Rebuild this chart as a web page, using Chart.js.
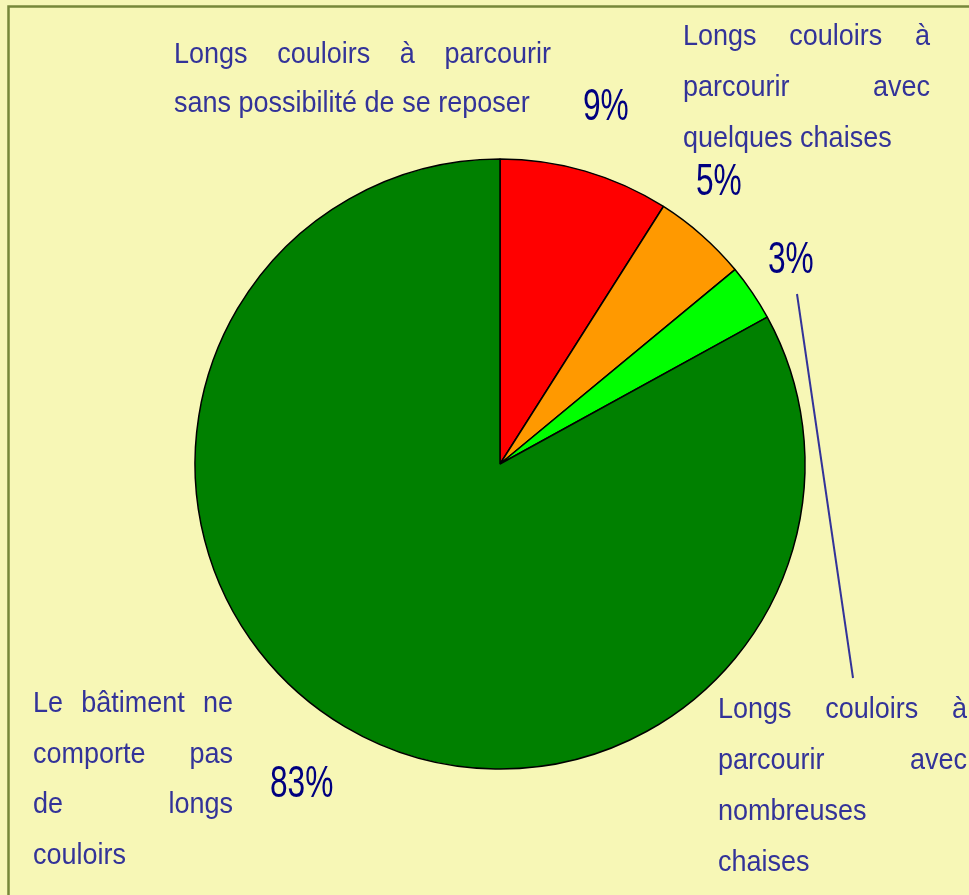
<!DOCTYPE html>
<html>
<head>
<meta charset="utf-8">
<script src="https://cdn.jsdelivr.net/npm/chart.js@4.4.1/dist/chart.umd.min.js"></script>
<style>
    html, body { margin: 0; padding: 0; background: #f7f7b6; }
    #wrap { width: 969px; height: 895px; position: relative; }
</style>
</head>
<body>
<div id="wrap"><canvas id="grafikCouloirs"></canvas></div>
<script>
// categories (line breaks as in the picture)
const categories = [
    ['Longs couloirs à parcourir', 'sans possibilité de se reposer'],
    ['Longs couloirs à', 'parcourir avec', 'quelques chaises'],
    ['Longs couloirs à', 'parcourir avec', 'nombreuses', 'chaises'],
    ['Le bâtiment ne', 'comporte pas', 'de longs', 'couloirs']
];
const values = [9, 5, 3, 83];
const colors = ['#ff0000', '#ff9900', '#00ff00', '#008000'];

// where each label block and each percentage sits
const blocks = [
    { left: 174, right: 551, top: 63, lh: 49 },
    { left: 683, right: 930, top: 45, lh: 51 },
    { left: 718, right: 967, top: 718, lh: 51 },
    { left: 33, right: 233, top: 712, lh: 50.5 }
];
const pctPos = [
    { x: 583, y: 120 },
    { x: 696, y: 195 },
    { x: 768, y: 273 },
    { x: 270, y: 797 }
];

const policeTexte = '"Liberation Sans", Arial, sans-serif';

const fondPlugin = {
    id: 'fond',
    beforeDraw: function (chart) {
        const ctx = chart.ctx;
        ctx.save();
        ctx.fillStyle = '#f7f7b6';
        ctx.fillRect(0, 0, chart.width, chart.height);
        ctx.strokeStyle = '#77883a';
        ctx.lineWidth = 2.5;
        ctx.strokeRect(8.5, 6.5, chart.width + 20, chart.height + 20);
        ctx.restore();
    }
};

function texteEtire(ctx, txt, x, y, sx) {
    ctx.save();
    ctx.translate(x, y);
    ctx.scale(sx, 1);
    ctx.fillText(txt, 0, 0);
    ctx.restore();
}

const etiquettesPlugin = {
    id: 'etiquettes',
    afterDraw: function (chart) {
        const ctx = chart.ctx;
        const sx = 0.9;
        ctx.save();
        ctx.textBaseline = 'alphabetic';
        ctx.textAlign = 'left';

        // leader line for the 3% slice
        ctx.strokeStyle = '#333399';
        ctx.lineWidth = 2;
        ctx.beginPath();
        ctx.moveTo(797, 294);
        ctx.lineTo(853, 678);
        ctx.stroke();

        ctx.font = '30px ' + policeTexte;
        ctx.fillStyle = '#333399';
        chart.data.labels.forEach(function (lignes, i) {
            const b = blocks[i];
            const largeur = b.right - b.left;
            lignes.forEach(function (ligne, j) {
                const y = b.top + j * b.lh;
                const mots = ligne.split(' ');
                if (j === lignes.length - 1 || mots.length < 2) {
                    texteEtire(ctx, ligne, b.left, y, sx);
                    return;
                }
                // justified line
                const w = mots.map(m => ctx.measureText(m).width * sx);
                const total = w.reduce((a, c) => a + c, 0);
                const ecart = (largeur - total) / (mots.length - 1);
                let x = b.left;
                mots.forEach(function (m, k) {
                    texteEtire(ctx, m, x, y, sx);
                    x += w[k] + ecart;
                });
            });
        });

        ctx.font = '44px ' + policeTexte;
        ctx.fillStyle = '#000080';
        chart.data.datasets[0].data.forEach(function (v, i) {
            texteEtire(ctx, v + '%', pctPos[i].x, pctPos[i].y, 0.72);
        });
        ctx.restore();
    }
};

new Chart('grafikCouloirs', {
    type: 'pie',
    data: {
        labels: categories,
        datasets: [{
            data: values,
            backgroundColor: colors,
            borderColor: '#000000',
            borderWidth: 1.5
        }]
    },
    options: {
        responsive: true,
        maintainAspectRatio: false,
        animation: false,
        radius: 305,
        layout: { padding: { left: 61, right: 30, top: 63, bottom: 30 } },
        plugins: {
            legend: { display: false },
            tooltip: { enabled: false }
        }
    },
    plugins: [fondPlugin, etiquettesPlugin]
});
</script>
</body>
</html>
